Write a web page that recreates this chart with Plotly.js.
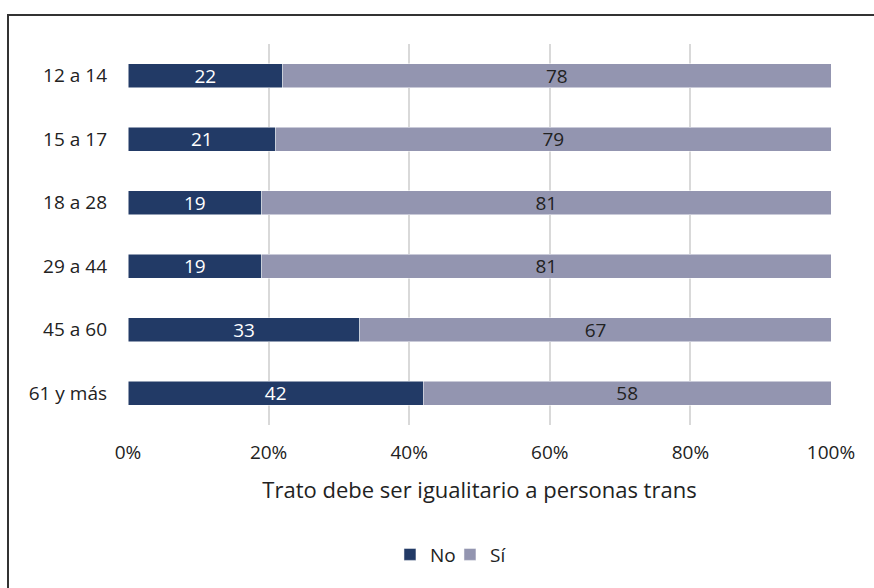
<!DOCTYPE html>
<html>
<head>
<meta charset="utf-8">
<script src="https://cdn.plot.ly/plotly-3.0.1.min.js"></script>
<style>html,body{margin:0;padding:0;background:#fff;}#chart{width:874px;height:588px;}</style>
</head>
<body>
<div id="chart"></div>
<script>
const categories = ["12 a 14", "15 a 17", "18 a 28", "29 a 44", "45 a 60", "61 y más"];
const noValues = [22, 21, 19, 19, 33, 42];
const siValues = [78, 79, 81, 81, 67, 58];
const xTickVals = [0, 20, 40, 60, 80, 100];
const xTickText = ["0%", "20%", "40%", "60%", "80%", "100%"];
const axisTitle = "Trato debe ser igualitario a personas trans";

const font = "'Open Sans', sans-serif";
const ink = "#222222";

const traces = [
  {
    type: "bar", orientation: "h", name: "No",
    y: categories, x: noValues,
    text: noValues.map(String), textposition: "inside", insidetextanchor: "middle",
    textangle: 0, constraintext: "none",
    textfont: {color: "#ffffff", size: 19, family: font},
    marker: {color: "#223A66", line: {color: "#ffffff", width: 0.5}},
    hoverinfo: "none"
  },
  {
    type: "bar", orientation: "h", name: "Sí",
    y: categories, x: siValues,
    text: siValues.map(String), textposition: "inside", insidetextanchor: "middle",
    textangle: 0, constraintext: "none",
    textfont: {color: ink, size: 19, family: font},
    marker: {color: "#9395B0", line: {color: "#ffffff", width: 0.5}},
    hoverinfo: "none"
  }
];

const layout = {
  width: 874, height: 588,
  margin: {l: 128, r: 43, t: 44, b: 163},
  paper_bgcolor: "#ffffff", plot_bgcolor: "#ffffff",
  barmode: "stack", bargap: 0.62,
  font: {family: font, size: 19, color: ink},
  showlegend: true,
  legend: {orientation: "h", x: 0.458, xanchor: "center", y: -0.34, yanchor: "middle",
           itemwidth: 30, entrywidth: 15, font: {size: 19, family: font, color: ink}, traceorder: "normal"},
  xaxis: {
    range: [0, 100], tickvals: xTickVals, ticktext: xTickText,
    showgrid: true, gridcolor: "#D9D9D9", gridwidth: 2, zeroline: false,
    showline: false, ticks: "", ticklabelstandoff: 14,
    tickfont: {size: 19, family: font, color: ink},
    title: {text: axisTitle, standoff: 18, font: {size: 22, family: font, color: ink}},
    fixedrange: true
  },
  yaxis: {
    type: "category", autorange: "reversed",
    showgrid: false, zeroline: false, showline: false, ticks: "",
    ticklabelstandoff: 20,
    tickfont: {size: 19, family: font, color: ink},
    fixedrange: true
  },
  shapes: [
    {type: "rect", xref: "paper", yref: "paper",
     x0: (8 - 128) / 703, x1: 1.2, y0: -1, y1: (425 - 15) / 381,
     line: {color: "#333333", width: 2}, fillcolor: "rgba(0,0,0,0)", layer: "below"}
  ]
};

Plotly.newPlot("chart", traces, layout, {displayModeBar: false, staticPlot: true});
</script>
</body>
</html>
